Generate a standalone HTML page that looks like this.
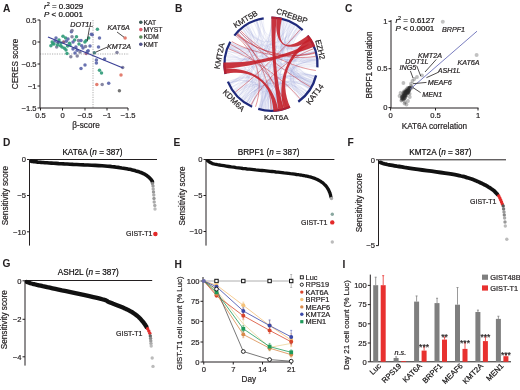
<!DOCTYPE html>
<html><head><meta charset="utf-8"><style>
html,body{margin:0;padding:0;background:#fff;width:520px;height:390px;overflow:hidden}
svg{display:block;will-change:transform}
text{font-family:"Liberation Sans", sans-serif;stroke:#231f20;stroke-width:0.2px;}
text[font-weight=bold]{stroke-width:0.05px}
</style></head><body>
<svg width="520" height="390" viewBox="0 0 520 390" font-family='"Liberation Sans", sans-serif'>
<rect width="520" height="390" fill="#fff"/>
<text x="3" y="12.3" font-size="10.2" text-anchor="start" font-weight="bold" fill="#231f20">A</text>
<text x="44" y="8.5" font-size="8"><tspan font-style="italic">r</tspan><tspan font-size="5.5" dy="-3">2</tspan><tspan dy="3"> = 0.3029</tspan></text>
<text x="44" y="17.2" font-size="8"><tspan font-style="italic">P</tspan> &lt; 0.0001</text>
<line x1="40" y1="54" x2="129" y2="54" stroke="#9a9a9a" stroke-width="0.8" stroke-dasharray="1.2 1.2"/>
<line x1="93" y1="20" x2="93" y2="108" stroke="#9a9a9a" stroke-width="0.8" stroke-dasharray="1.2 1.2"/>
<line x1="40" y1="20" x2="40" y2="108" stroke="#231f20" stroke-width="1.0"/>
<line x1="37.5" y1="20" x2="40" y2="20" stroke="#231f20" stroke-width="1.0"/>
<text x="36.5" y="22.7" font-size="7.6" text-anchor="end" fill="#231f20">0.5</text>
<line x1="37.5" y1="42" x2="40" y2="42" stroke="#231f20" stroke-width="1.0"/>
<text x="36.5" y="44.7" font-size="7.6" text-anchor="end" fill="#231f20">0</text>
<line x1="37.5" y1="64" x2="40" y2="64" stroke="#231f20" stroke-width="1.0"/>
<text x="36.5" y="66.7" font-size="7.6" text-anchor="end" fill="#231f20">&#8722;0.5</text>
<line x1="37.5" y1="86" x2="40" y2="86" stroke="#231f20" stroke-width="1.0"/>
<text x="36.5" y="88.7" font-size="7.6" text-anchor="end" fill="#231f20">&#8722;1</text>
<line x1="37.5" y1="108" x2="40" y2="108" stroke="#231f20" stroke-width="1.0"/>
<text x="36.5" y="110.7" font-size="7.6" text-anchor="end" fill="#231f20">&#8722;1.5</text>
<line x1="40" y1="108" x2="128" y2="108" stroke="#231f20" stroke-width="1.0"/>
<line x1="40.5" y1="108" x2="40.5" y2="110.5" stroke="#231f20" stroke-width="1.0"/>
<text x="40.5" y="118" font-size="7.6" text-anchor="middle" fill="#231f20">0.5</text>
<line x1="62.5" y1="108" x2="62.5" y2="110.5" stroke="#231f20" stroke-width="1.0"/>
<text x="62.5" y="118" font-size="7.6" text-anchor="middle" fill="#231f20">0</text>
<line x1="85" y1="108" x2="85" y2="110.5" stroke="#231f20" stroke-width="1.0"/>
<text x="85" y="118" font-size="7.6" text-anchor="middle" fill="#231f20">&#8722;0.5</text>
<line x1="107" y1="108" x2="107" y2="110.5" stroke="#231f20" stroke-width="1.0"/>
<text x="107" y="118" font-size="7.6" text-anchor="middle" fill="#231f20">&#8722;1</text>
<line x1="128" y1="108" x2="128" y2="110.5" stroke="#231f20" stroke-width="1.0"/>
<text x="128" y="118" font-size="7.6" text-anchor="middle" fill="#231f20">&#8722;1.5</text>
<text x="18.3" y="64" font-size="8.2" text-anchor="middle" transform="rotate(-90 18.3 64)" fill="#231f20">CERES score</text>
<text x="86" y="127.6" font-size="8.2" text-anchor="middle" fill="#231f20">&#946;-score</text>
<circle cx="52.2" cy="41.9" r="1.75" fill="#2e9a78" fill-opacity="0.9"/>
<circle cx="50.9" cy="45.8" r="1.75" fill="#2e9a78" fill-opacity="0.9"/>
<circle cx="52.8" cy="43.8" r="1.75" fill="#2e9a78" fill-opacity="0.9"/>
<circle cx="56.0" cy="38.0" r="1.75" fill="#5a64a8" fill-opacity="0.9"/>
<circle cx="56.7" cy="47.0" r="1.75" fill="#7a7a98" fill-opacity="0.9"/>
<circle cx="58.0" cy="42.6" r="1.75" fill="#3c4a8a" fill-opacity="0.9"/>
<circle cx="60.5" cy="45.8" r="1.75" fill="#2e9a78" fill-opacity="0.9"/>
<circle cx="63.0" cy="36.2" r="1.75" fill="#2e9a78" fill-opacity="0.9"/>
<circle cx="63.7" cy="42.0" r="1.75" fill="#8a4a6a" fill-opacity="0.9"/>
<circle cx="64.4" cy="48.3" r="1.75" fill="#2e9a78" fill-opacity="0.9"/>
<circle cx="65.6" cy="38.0" r="1.75" fill="#2e9a78" fill-opacity="0.9"/>
<circle cx="66.3" cy="41.3" r="1.75" fill="#5a64a8" fill-opacity="0.9"/>
<circle cx="67.0" cy="53.5" r="1.75" fill="#2e9a78" fill-opacity="0.9"/>
<circle cx="69.5" cy="43.2" r="1.75" fill="#2e9a78" fill-opacity="0.9"/>
<circle cx="70.8" cy="56.7" r="1.75" fill="#7a7a98" fill-opacity="0.9"/>
<circle cx="71.4" cy="31.7" r="1.75" fill="#5a64a8" fill-opacity="0.9"/>
<circle cx="72.0" cy="36.8" r="1.75" fill="#7a7a98" fill-opacity="0.9"/>
<circle cx="72.0" cy="30.4" r="1.75" fill="#7a7a98" fill-opacity="0.9"/>
<circle cx="74.6" cy="40.0" r="1.75" fill="#2e9a78" fill-opacity="0.9"/>
<circle cx="75.9" cy="47.0" r="1.75" fill="#5a64a8" fill-opacity="0.9"/>
<circle cx="76.5" cy="36.8" r="1.75" fill="#2e9a78" fill-opacity="0.9"/>
<circle cx="78.5" cy="40.6" r="1.75" fill="#7a7a98" fill-opacity="0.9"/>
<circle cx="77.2" cy="50.3" r="1.75" fill="#5a64a8" fill-opacity="0.9"/>
<circle cx="77.2" cy="56.0" r="1.75" fill="#7a7a98" fill-opacity="0.9"/>
<circle cx="81.0" cy="40.6" r="1.75" fill="#5a64a8" fill-opacity="0.9"/>
<circle cx="81.7" cy="45.8" r="1.75" fill="#5a64a8" fill-opacity="0.9"/>
<circle cx="84.9" cy="42.0" r="1.75" fill="#2e9a78" fill-opacity="0.9"/>
<circle cx="85.5" cy="46.4" r="1.75" fill="#7a7a98" fill-opacity="0.9"/>
<circle cx="86.2" cy="53.5" r="1.75" fill="#9a5a7a" fill-opacity="0.9"/>
<circle cx="87.4" cy="51.5" r="1.75" fill="#5a64a8" fill-opacity="0.9"/>
<circle cx="88.7" cy="38.0" r="1.75" fill="#2e9a78" fill-opacity="0.9"/>
<circle cx="91.3" cy="34.2" r="1.75" fill="#5a64a8" fill-opacity="0.9"/>
<circle cx="97.4" cy="29.2" r="1.75" fill="#2e9a78" fill-opacity="0.9"/>
<circle cx="99.5" cy="38.0" r="1.75" fill="#5a64a8" fill-opacity="0.9"/>
<circle cx="125.1" cy="38.0" r="1.75" fill="#e07060" fill-opacity="0.9"/>
<circle cx="92.3" cy="34.8" r="1.75" fill="#5a64a8" fill-opacity="0.9"/>
<circle cx="86.2" cy="40.5" r="1.75" fill="#2e9a78" fill-opacity="0.9"/>
<circle cx="98.5" cy="47.0" r="1.75" fill="#5a64a8" fill-opacity="0.9"/>
<circle cx="94.4" cy="52.8" r="1.75" fill="#3a7070" fill-opacity="0.9"/>
<circle cx="88.2" cy="50.8" r="1.75" fill="#5a64a8" fill-opacity="0.9"/>
<circle cx="96.4" cy="60.0" r="1.75" fill="#5a64a8" fill-opacity="0.9"/>
<circle cx="96.4" cy="63.0" r="1.75" fill="#5a64a8" fill-opacity="0.9"/>
<circle cx="104.6" cy="59.0" r="1.75" fill="#5a64a8" fill-opacity="0.9"/>
<circle cx="122.7" cy="67.6" r="1.75" fill="#7a7a98" fill-opacity="0.9"/>
<circle cx="99.5" cy="70.3" r="1.75" fill="#2e9a78" fill-opacity="0.9"/>
<circle cx="101.5" cy="73.0" r="1.75" fill="#2e9a78" fill-opacity="0.9"/>
<circle cx="121.0" cy="75.0" r="1.75" fill="#e07060" fill-opacity="0.9"/>
<circle cx="96.8" cy="84.6" r="1.75" fill="#e07060" fill-opacity="0.9"/>
<circle cx="102.2" cy="84.6" r="1.75" fill="#7a7a98" fill-opacity="0.9"/>
<circle cx="108.7" cy="83.2" r="1.75" fill="#5a64a8" fill-opacity="0.9"/>
<circle cx="119.4" cy="90.8" r="1.75" fill="#666" fill-opacity="0.9"/>
<circle cx="117.0" cy="52.5" r="1.75" fill="#7a7a98" fill-opacity="0.9"/>
<circle cx="85.0" cy="65.0" r="1.75" fill="#5a64a8" fill-opacity="0.9"/>
<circle cx="81.0" cy="68.6" r="1.75" fill="#5a64a8" fill-opacity="0.9"/>
<circle cx="55.0" cy="41.0" r="1.75" fill="#5a64a8" fill-opacity="0.9"/>
<circle cx="59.0" cy="40.0" r="1.75" fill="#2e9a78" fill-opacity="0.9"/>
<circle cx="61.0" cy="43.0" r="1.75" fill="#2e9a78" fill-opacity="0.9"/>
<circle cx="68.0" cy="39.0" r="1.75" fill="#5a64a8" fill-opacity="0.9"/>
<circle cx="70.0" cy="45.0" r="1.75" fill="#2e9a78" fill-opacity="0.9"/>
<circle cx="73.0" cy="42.0" r="1.75" fill="#5a64a8" fill-opacity="0.9"/>
<circle cx="79.0" cy="44.0" r="1.75" fill="#2e9a78" fill-opacity="0.9"/>
<circle cx="83.0" cy="48.0" r="1.75" fill="#5a64a8" fill-opacity="0.9"/>
<circle cx="62.0" cy="47.0" r="1.75" fill="#2e9a78" fill-opacity="0.9"/>
<circle cx="66.0" cy="50.0" r="1.75" fill="#2e9a78" fill-opacity="0.9"/>
<circle cx="54.0" cy="44.0" r="1.75" fill="#2e9a78" fill-opacity="0.9"/>
<circle cx="57.5" cy="45.0" r="1.75" fill="#2e9a78" fill-opacity="0.9"/>
<circle cx="67.5" cy="46.0" r="1.75" fill="#2e9a78" fill-opacity="0.9"/>
<circle cx="90.0" cy="46.0" r="1.75" fill="#5a64a8" fill-opacity="0.9"/>
<circle cx="75.0" cy="53.0" r="1.75" fill="#5a64a8" fill-opacity="0.9"/>
<circle cx="73.0" cy="49.0" r="1.75" fill="#5a64a8" fill-opacity="0.9"/>
<circle cx="80.0" cy="52.0" r="1.75" fill="#7a7a98" fill-opacity="0.9"/>
<line x1="48" y1="37" x2="123" y2="68" stroke="#3a3f96" stroke-width="1.2"/>
<text x="70.2" y="26.5" font-size="7.2" text-anchor="start" font-style="italic" fill="#231f20">DOT1L</text>
<line x1="89.5" y1="27.5" x2="87.2" y2="41" stroke="#231f20" stroke-width="0.8"/>
<text x="107.5" y="30.2" font-size="7.2" text-anchor="start" font-style="italic" fill="#231f20">KAT6A</text>
<line x1="117" y1="32" x2="124" y2="37.2" stroke="#231f20" stroke-width="0.8"/>
<text x="107" y="48.5" font-size="7.2" text-anchor="start" font-style="italic" fill="#231f20">KMT2A</text>
<line x1="107" y1="47.2" x2="96" y2="52" stroke="#231f20" stroke-width="0.8"/>
<circle cx="140.8" cy="22.3" r="1.8" fill="#3c5a56"/>
<text x="143.5" y="24.7" font-size="6.8" text-anchor="start" fill="#231f20">KAT</text>
<circle cx="140.8" cy="29.6" r="1.8" fill="#e06070"/>
<text x="143.5" y="32.05" font-size="6.8" text-anchor="start" fill="#231f20">MYST</text>
<circle cx="140.8" cy="37.0" r="1.8" fill="#5a8a5a"/>
<text x="143.5" y="39.4" font-size="6.8" text-anchor="start" fill="#231f20">KDM</text>
<circle cx="140.8" cy="44.3" r="1.8" fill="#50548a"/>
<text x="143.5" y="46.74999999999999" font-size="6.8" text-anchor="start" fill="#231f20">KMT</text>
<text x="175" y="12.3" font-size="10.2" text-anchor="start" font-weight="bold" fill="#231f20">B</text>
<path d="M314.7,52.4C291.2,58.7 257.4,80.2 241.7,98.8 M226.3,71.5C247.6,68.0 261.1,85.7 252.2,105.4 M312.6,82.2C288.8,71.9 253.0,71.5 229.1,81.3 M247.3,25.6C262.8,50.8 258.6,73.8 235.2,92.0 M229.5,46.1C250.3,55.2 292.7,58.0 314.5,51.7 M226.3,71.6C250.5,67.6 264.1,44.6 256.0,21.5 M314.7,76.1C289.8,69.3 266.0,45.4 259.4,20.4 M227.7,50.7C253.3,58.7 266.9,82.3 260.9,108.4 M246.4,26.2C257.9,43.9 249.1,74.3 229.9,83.2 M310.7,42.3C287.7,55.0 266.2,82.6 259.6,108.0 M225.7,63.9C252.6,64.1 261.7,48.3 248.2,25.0 M307.0,91.7C290.4,79.1 252.3,80.0 236.4,93.5 M229.3,46.4C251.0,55.7 285.7,48.2 301.7,30.9 M316.3,62.7C295.5,63.4 249.3,52.9 230.8,43.2 M233.7,89.9C251.6,77.6 274.9,40.9 278.5,19.5 M244.0,100.6C256.8,83.4 293.9,71.0 314.4,77.1 M279.1,108.8C275.3,88.2 272.4,39.9 273.6,19.0 M285.5,21.3C275.9,49.7 284.2,72.0 310.0,87.3 M244.5,27.4C259.1,47.7 279.7,45.8 290.4,23.3 M312.6,82.2C283.9,69.8 264.9,76.9 251.4,105.1 M288.9,22.6C281.0,41.0 248.0,74.6 229.7,82.8 M312.2,83.0C294.1,74.7 250.4,79.0 234.2,90.6 M300.2,98.8C283.4,79.0 288.9,56.9 313.0,47.1 M235.1,91.9C254.8,76.7 271.1,84.7 271.1,109.5 M238.2,95.5C254.9,79.6 258.7,45.6 246.0,26.4 M313.7,49.0C287.5,58.3 286.9,71.4 312.3,82.9 M302.7,96.5C283.3,76.8 282.9,51.2 301.6,30.8 M271.3,109.5C271.2,85.5 260.4,82.7 248.4,103.5 M311.0,85.5C289.5,74.1 266.4,84.7 261.0,108.4 M308.7,89.3C291.9,78.1 246.5,58.9 226.7,54.7 M279.8,19.8C275.0,43.8 288.6,75.3 309.3,88.4 M310.8,85.9C287.0,72.9 287.6,56.5 312.1,45.2 M243.6,100.3C257.1,82.5 291.0,75.3 310.6,86.2 M293.3,24.8C280.7,47.0 261.2,81.4 248.5,103.5 M225.7,65.0C249.2,64.6 257.6,47.0 243.2,28.5 M229.7,82.8C255.9,71.0 283.5,75.1 305.2,93.9 M312.4,45.9C293.2,54.4 282.4,42.8 292.4,24.3 M282.7,108.0C276.2,83.6 290.0,70.7 313.9,78.8 M316.2,60.9C287.0,63.0 281.9,76.1 301.6,97.6 M228.7,47.9C256.6,58.6 275.0,49.3 282.9,20.5 M302.6,96.7C283.5,77.1 260.5,78.8 244.4,100.9 M276.7,109.1C274.1,88.7 292.3,76.7 310.1,87.1 M300.5,29.8C287.5,44.9 266.1,89.1 262.2,108.6 M260.0,108.2C267.0,80.2 256.0,71.2 230.0,83.5 M229.1,47.0C252.5,56.6 270.1,84.2 269.0,109.5 M311.1,85.2C284.1,71.0 262.8,76.4 245.7,101.8 M248.8,103.7C264.0,76.7 284.1,70.0 312.5,82.5 M248.4,25.0C258.9,43.2 246.8,65.8 225.8,67.3 M288.0,106.2C276.8,78.4 260.1,75.0 238.9,96.1 M245.3,101.5C259.6,80.8 290.5,69.4 314.8,75.8 M275.2,19.1C273.3,39.1 258.6,86.2 248.7,103.6 M231.9,87.0C256.7,72.5 277.1,79.6 287.6,106.3 M299.0,28.6C281.4,51.1 262.8,78.8 248.9,103.7 M313.8,79.1C289.5,70.6 266.8,45.0 261.3,20.0 M240.9,98.1C259.8,76.8 265.4,48.3 255.9,21.5 M251.0,104.8C260.6,85.3 275.5,87.2 279.7,108.7 M256.5,21.3C266.4,50.4 271.6,49.7 272.9,18.9 M263.0,108.8C267.5,83.7 272.4,44.5 274.3,19.0 M311.5,84.5C290.2,73.8 290.7,55.7 312.6,46.3 M242.0,99.0C259.6,77.8 287.5,70.8 313.1,80.9 M289.5,22.9C278.5,47.4 289.2,61.7 315.9,58.0 M277.4,19.4C274.0,43.4 257.4,80.2 241.6,98.7 M244.6,27.4C258.6,47.0 252.8,75.0 232.1,87.4 M278.2,108.9C274.5,86.0 279.1,43.6 287.7,22.1 M276.7,109.1C273.1,80.6 254.8,67.4 226.6,73.0 M306.9,91.8C284.1,74.3 255.5,58.3 228.7,48.0 M316.3,65.3C295.4,64.8 277.9,40.8 283.8,20.7 M309.2,88.6C290.7,76.8 273.3,40.9 275.5,19.1 M229.7,45.5C251.2,55.2 264.3,43.5 257.1,21.1 M226.6,55.5C250.6,60.2 290.8,70.7 314.1,78.3 M276.2,19.2C272.7,49.8 269.2,78.6 265.5,109.2 M274.7,19.1C272.3,48.2 256.7,71.5 230.7,84.9 M297.8,27.7C285.1,45.0 293.5,71.9 313.9,78.8 M229.1,47.0C251.9,56.4 266.0,84.3 260.0,108.1 M236.1,35.3C255.7,51.5 281.9,47.5 295.7,26.3 M226.1,70.2C246.4,67.5 295.7,61.4 316.0,59.0 M282.2,20.3C276.8,41.4 253.3,79.7 236.9,94.0 M226.0,59.0C246.3,61.3 295.6,60.5 315.8,57.4 M229.8,83.1C248.1,74.7 271.8,89.4 272.4,109.5 M282.4,108.0C277.0,87.2 249.5,74.3 230.0,83.4 M315.7,57.1C292.5,60.8 268.6,85.9 266.1,109.2 M238.8,96.1C253.7,81.4 247.4,58.2 227.1,53.0 M295.2,25.9C281.7,47.3 266.6,83.7 261.1,108.4 M267.2,109.3C269.6,81.2 261.9,78.6 246.9,102.5 M301.3,97.9C286.4,81.3 293.2,58.1 314.7,52.2 M250.9,23.6C259.7,41.5 271.3,89.6 271.5,109.5 M307.2,36.9C285.7,53.1 286.4,74.3 308.9,89.0 M312.7,46.6C292.1,55.3 256.8,82.2 243.0,99.8 M316.2,67.1C291.9,65.5 272.8,85.0 274.8,109.3 M263.6,108.9C267.7,84.4 253.3,74.4 231.7,86.7 M287.3,106.5C279.3,85.7 250.4,53.8 230.6,43.7 M299.6,29.1C284.6,47.6 266.7,85.2 261.9,108.6 M236.8,34.5C258.2,53.1 254.1,65.1 225.8,66.6 M311.3,43.5C290.7,54.1 255.6,48.3 239.6,31.6 M260.6,20.1C265.5,40.8 275.7,40.7 279.9,19.8 M309.9,87.5C283.8,71.9 285.8,62.3 315.9,58.4 M297.6,27.5C281.6,49.5 287.3,72.0 311.8,83.8 M234.5,91.0C256.6,74.8 253.5,67.8 226.6,73.4 M283.2,107.8C277.7,88.3 281.7,41.6 290.4,23.3 M272.8,109.5C271.7,81.3 285.4,54.9 309.0,39.5 M226.1,70.0C246.7,67.4 266.1,88.2 262.0,108.6 M300.4,29.8C285.9,46.8 256.1,81.6 241.6,98.7 M242.3,29.1C257.4,47.5 269.9,85.7 268.6,109.4 M303.5,95.8C286.6,79.4 285.4,47.9 300.9,30.2 M287.6,22.0C279.2,43.5 248.7,63.3 225.7,62.3 M247.0,102.6C259.7,82.2 250.4,58.9 227.1,52.9 M316.3,63.7C286.4,64.0 282.7,74.1 305.6,93.4 M230.1,83.7C251.6,73.5 292.1,60.1 315.5,55.6 M280.4,108.5C275.1,83.3 260.6,80.7 246.8,102.5 M254.3,22.1C265.1,49.3 284.4,55.3 308.8,39.2 M241.1,98.3C259.7,77.1 254.1,66.6 226.1,70.4 M276.0,19.2C272.9,47.2 262.1,49.6 247.4,25.5 M226.3,57.0C246.4,60.3 264.8,40.0 259.8,20.3 M264.4,109.0C268.1,83.7 262.0,81.8 250.4,104.5 M280.4,19.9C274.2,49.3 283.7,55.7 308.6,39.0 M237.8,33.4C255.9,50.2 251.3,58.3 227.6,51.2 M259.0,107.9C265.4,84.5 255.8,49.7 238.2,33.0 M257.2,21.0C266.2,49.0 271.6,80.1 272.7,109.5 M244.3,27.6C257.0,45.0 292.4,74.5 311.8,83.9 M242.9,28.7C260.1,50.4 267.3,81.3 261.4,108.5 M268.3,109.4C269.6,88.1 256.5,83.3 243.6,100.3 M271.0,109.5C271.0,78.2 278.3,52.3 294.6,25.5 M226.2,57.8C251.9,61.5 289.6,58.9 314.5,51.7 M314.6,51.9C290.0,58.8 255.8,51.6 236.1,35.3 M226.1,70.1C249.6,67.0 275.7,85.3 280.9,108.4 M286.8,106.6C276.0,77.5 268.0,50.3 261.4,19.9 M238.3,95.5C260.8,74.0 284.5,60.0 314.3,50.9 M311.1,85.3C284.2,71.1 265.4,50.4 253.9,22.3 M256.5,21.3C266.2,50.1 264.6,77.6 251.5,105.1 M312.9,81.3C286.1,70.4 258.7,53.6 236.7,34.6 M225.8,66.5C247.9,65.4 256.6,46.1 242.8,28.7 M263.3,108.8C267.8,82.4 280.4,48.3 294.0,25.2 M287.4,106.4C276.9,79.5 255.9,57.8 229.3,46.6 M288.7,105.9C279.6,84.4 289.6,75.9 309.3,88.4 M275.6,109.3C272.7,81.0 284.6,54.1 307.4,37.3 M246.5,26.1C260.9,48.5 287.4,73.1 310.8,85.8 M278.4,19.5C273.5,48.8 266.1,49.4 256.8,21.2 M283.6,107.7C275.4,79.5 262.3,77.5 246.2,102.1 M284.4,107.5C275.5,78.7 264.5,78.0 251.7,105.2 M314.2,50.6C284.6,59.9 276.2,77.4 287.7,106.3 M277.1,109.1C272.9,78.6 281.8,74.0 304.6,94.6 M277.4,109.0C274.6,89.1 271.7,39.0 272.3,18.9 M287.0,21.8C278.5,44.4 277.3,84.4 284.6,107.4 M306.8,92.0C284.7,74.8 280.9,50.0 296.9,27.0 M257.0,21.1C264.9,45.5 266.1,83.2 259.7,108.1 M251.6,105.1C260.1,87.2 293.6,76.0 311.2,85.1 M314.5,76.9C285.4,68.4 275.9,50.0 285.8,21.4 M249.3,104.0C264.2,76.6 278.0,51.9 293.3,24.7 M238.9,96.1C256.9,78.2 274.0,44.5 277.7,19.4 M300.1,98.9C282.5,77.9 288.8,62.3 316.0,59.3 M260.3,108.2C266.9,81.2 287.9,68.8 314.7,76.2 M229.7,82.9C255.2,71.4 253.8,66.7 226.2,70.8 M237.8,33.3C257.9,52.1 273.6,81.8 277.6,109.0 M230.3,44.3C250.7,54.3 255.2,48.1 239.3,31.9 M229.1,47.0C248.2,54.8 271.8,88.9 272.5,109.5 M310.0,87.3C290.8,75.9 255.6,47.1 240.6,30.6 M281.4,108.3C276.1,85.9 291.9,72.1 313.4,80.3 M234.0,90.4C259.2,72.6 258.1,57.7 230.6,43.7 M316.0,59.1C285.9,62.5 257.0,58.6 228.9,47.4 M225.7,63.3C247.7,63.7 281.2,43.3 290.9,23.5 M298.6,28.3C285.9,44.9 254.1,81.8 239.6,96.9 M316.1,60.3C288.8,62.7 267.1,81.7 261.1,108.4 M309.4,88.2C284.9,72.9 280.5,50.8 297.3,27.3 M231.0,42.9C257.2,56.8 281.1,52.3 300.3,29.6 M316.3,66.3C291.5,65.1 289.9,72.1 312.8,81.8 M265.3,109.1C268.1,87.1 253.1,78.9 236.0,93.0 M246.8,102.5C263.1,76.8 260.6,53.6 239.3,31.8 M272.2,18.9C271.4,47.9 256.1,70.7 229.5,82.2 M314.0,78.5C293.3,71.6 278.1,41.7 284.6,21.0 M226.1,70.1C249.5,67.0 255.5,79.5 238.8,96.0 M225.8,60.6C248.1,62.4 288.5,79.1 305.5,93.6 M299.0,99.8C282.4,78.6 261.0,48.8 246.4,26.2 M271.6,18.9C271.3,42.8 258.1,81.3 243.6,100.3 M316.0,59.2C292.8,61.8 266.1,85.6 260.8,108.3 M302.8,96.4C285.0,78.4 278.3,82.8 287.5,106.4 M316.2,62.0C287.7,63.4 287.0,68.9 314.4,77.1 M281.9,108.2C276.5,86.2 276.6,42.2 282.1,20.3 M310.7,42.4C290.7,53.4 250.4,55.1 229.6,45.9 M273.0,109.5C272.1,89.1 246.1,62.0 225.9,60.1 M238.8,96.1C257.7,77.3 268.7,82.7 265.5,109.2 M243.8,100.4C261.3,77.1 281.4,51.9 300.2,29.6 M225.7,64.1C249.6,64.2 291.5,58.2 314.5,51.6 M295.1,25.9C281.1,48.1 288.0,55.8 311.6,44.1 M303.8,95.5C283.5,76.1 269.2,81.4 266.4,109.3 M281.4,20.1C274.4,49.7 273.0,78.9 277.0,109.1 M316.1,59.5C296.2,61.6 269.2,89.4 267.8,109.4 M244.4,27.5C260.7,50.0 253.5,65.8 225.9,68.5 M316.3,65.9C285.3,64.7 283.9,70.4 311.9,83.7 M312.5,82.4C283.9,69.9 257.9,59.1 228.7,47.9 M314.6,51.9C286.3,59.9 255.4,61.5 226.4,56.4 M316.1,60.5C296.1,62.1 255.9,44.0 243.9,27.9 M314.7,76.2C284.6,67.9 263.5,76.1 246.9,102.6 M263.6,108.9C267.2,87.3 289.4,78.6 306.6,92.2 M281.6,108.2C275.6,83.4 285.9,77.1 305.3,93.8 M225.7,62.7C256.6,63.7 284.9,68.0 314.7,76.1 M230.1,44.8C255.8,57.0 287.8,63.0 316.2,61.0 M316.0,59.3C290.8,62.1 252.4,57.3 228.5,48.4 M249.5,24.3C263.5,50.2 285.4,71.0 312.0,83.5 M292.1,24.1C282.4,42.5 266.0,88.2 261.7,108.5 M268.9,109.5C269.9,87.6 249.8,74.1 230.0,83.4 M273.6,109.4C271.9,80.3 286.0,69.9 313.3,80.3 M231.3,42.5C254.6,55.2 289.1,59.4 314.8,52.5 M309.3,88.3C287.3,74.4 268.3,83.2 264.6,109.0 M236.6,93.7C260.1,73.6 283.2,56.5 309.4,40.1 M282.6,108.0C276.3,84.3 259.9,46.6 246.8,25.9 M311.5,84.5C284.7,71.1 277.7,50.4 290.8,23.5 M316.1,60.2C288.0,62.7 283.2,76.1 303.5,95.8 M287.2,106.5C278.0,82.5 251.7,67.8 226.5,72.5 M225.8,67.4C255.0,65.3 267.4,79.9 260.9,108.4 M277.4,109.0C273.3,80.5 258.4,53.6 236.4,35.0 M282.0,20.2C275.2,47.5 286.0,72.7 310.3,86.6 M311.2,43.3C284.2,57.3 267.1,78.6 259.1,107.9 M227.6,51.2C250.6,58.1 273.0,43.0 275.3,19.1 M297.7,27.6C285.7,44.1 248.3,54.0 229.7,45.7 M225.9,59.7C251.8,62.3 284.0,49.9 301.5,30.7 M307.5,91.1C286.8,75.8 260.7,80.9 247.2,102.7 M310.0,41.2C289.8,53.1 251.9,53.7 231.3,42.4 M226.0,69.1C248.4,66.6 272.1,41.4 273.2,19.0 M310.2,41.5C291.9,52.1 287.5,81.8 301.9,97.3 M300.9,30.2C283.1,50.4 257.4,76.6 237.6,94.8 M284.3,20.9C276.1,47.7 266.4,80.8 258.9,107.9 M309.5,40.3C286.3,54.7 272.9,46.2 275.7,19.1 M229.9,83.3C254.4,71.9 271.3,45.9 271.6,18.9 M311.1,43.2C293.1,52.6 275.3,88.8 278.7,108.8 M267.7,109.4C270.0,78.4 274.4,50.4 281.8,20.2 M303.6,95.6C285.8,78.5 253.5,75.0 232.4,87.9 M273.0,109.5C271.9,84.3 257.1,78.8 239.8,97.1 M239.9,31.3C254.0,46.2 271.1,89.0 271.2,109.5 M239.4,31.8C254.4,47.2 250.0,53.2 230.8,43.3 M311.4,43.8C284.0,57.6 284.5,69.7 313.0,81.2 M291.3,23.7C280.2,45.8 277.0,83.9 284.2,107.5 M309.1,39.6C288.3,53.0 259.3,47.3 245.2,26.9 M304.7,94.4C285.4,77.1 259.6,79.8 244.3,100.8 M242.9,99.7C260.8,77.1 271.1,80.7 271.3,109.5 M272.1,109.5C271.5,85.0 254.6,77.0 235.3,92.1 M228.3,49.0C254.1,58.2 256.2,74.3 233.5,89.7 M225.7,62.6C253.6,63.6 268.0,47.1 263.1,19.6 M315.2,54.2C295.9,58.6 275.4,39.1 278.8,19.6 M313.6,48.9C285.6,59.0 285.0,70.7 312.2,83.1 M302.7,96.5C285.8,79.3 259.9,82.2 247.2,102.7 M229.1,81.3C253.6,71.3 278.0,81.6 287.9,106.2 M235.9,92.8C258.0,74.7 260.4,51.3 242.2,29.2 M312.8,46.8C289.8,56.4 274.4,44.2 278.6,19.5 M294.7,25.6C281.7,46.8 274.0,84.4 277.6,109.0 M283.7,20.7C276.4,45.9 287.7,73.4 310.7,86.1 M287.6,22.1C276.1,51.2 262.4,75.2 243.0,99.8 M271.4,18.9C271.1,47.8 256.4,71.6 230.7,84.8 M283.6,107.7C277.2,85.8 292.7,70.1 314.7,76.0 M309.5,88.1C290.0,76.0 256.6,81.3 241.9,98.9 M246.3,26.2C262.6,51.3 286.2,61.7 315.7,56.8 M274.9,109.3C272.5,81.4 288.3,64.0 316.3,63.7" fill="none" stroke="#9ea4d8" stroke-opacity="0.24" stroke-width="0.55"/>
<path d="M271.4,17.7 A46.5,46.5 0 0 1 302.7,30.2" fill="none" stroke="#1f2a7c" stroke-width="2.3"/>
<path d="M307.6,35.6 A46.5,46.5 0 0 1 317.4,67.4" fill="none" stroke="#1f2a7c" stroke-width="2.3"/>
<path d="M316.1,75.4 A46.5,46.5 0 0 1 298.3,101.8" fill="none" stroke="#1f2a7c" stroke-width="2.3"/>
<path d="M289.9,106.7 A46.5,46.5 0 0 1 258.2,108.9" fill="none" stroke="#1f2a7c" stroke-width="2.3"/>
<path d="M252.1,106.7 A46.5,46.5 0 0 1 227.9,81.6" fill="none" stroke="#1f2a7c" stroke-width="2.3"/>
<path d="M225.5,73.9 A46.5,46.5 0 0 1 230.3,41.7" fill="none" stroke="#1f2a7c" stroke-width="2.3"/>
<path d="M234.4,35.6 A46.5,46.5 0 0 1 263.7,18.3" fill="none" stroke="#1f2a7c" stroke-width="2.3"/>
<path d="M271.4,16.6 A47.65,47.65 0 0 1 276.8,16.9 C273.3,45.7 276.1,82.1 284.1,110.0 A47.65,47.65 0 0 1 278.5,111.3 C273.9,82.6 271.2,45.6 271.4,16.6Z" fill="#c4202a" fill-opacity="0.9"/>
<path d="M276.8,16.9 A47.65,47.65 0 0 1 282.1,17.9 C275.3,46.1 285.7,52.7 308.5,34.9 A47.65,47.65 0 0 1 311.8,39.7 C286.9,54.6 273.3,45.7 276.8,16.9Z" fill="#c4202a" fill-opacity="0.9"/>
<path d="M313.1,41.8 A47.65,47.65 0 0 1 315.2,46.3 C288.2,57.2 252.5,66.1 223.6,69.2 A47.65,47.65 0 0 1 223.4,62.5 C252.4,63.6 287.4,55.5 313.1,41.8Z" fill="#c4202a" fill-opacity="0.9"/>
<path d="M310.5,37.6 A47.65,47.65 0 0 1 313.1,41.8 C287.4,55.5 278.6,81.2 290.4,107.7 A47.65,47.65 0 0 1 284.1,110.0 C276.1,82.1 286.4,53.8 310.5,37.6Z" fill="#c4202a" fill-opacity="0.9"/>
<path d="M224.4,74.1 A47.65,47.65 0 0 1 223.6,69.2 C252.5,66.1 273.9,82.6 278.5,111.3 A47.65,47.65 0 0 1 273.5,111.8 C272.0,82.8 252.8,68.1 224.4,74.1Z" fill="#c4202a" fill-opacity="0.9"/>
<path d="M236.8,34.5C257.0,52.0 289.0,59.7 315.0,53.2 M237.3,33.9C257.2,51.8 289.3,61.0 315.6,56.3 M236.8,34.5C257.0,52.0 275.8,82.2 282.7,108.0 M237.9,33.3C257.4,51.5 271.0,82.8 271.0,109.5 M239.5,31.6C258.1,50.8 287.1,73.5 310.2,86.8 M240.7,30.5C258.6,50.4 289.4,66.8 315.9,70.5 M313.6,48.7C288.5,57.8 262.8,80.9 251.1,104.9 M230.3,44.3C254.3,56.0 277.4,81.7 286.5,106.8 M231.8,41.5C254.9,54.9 289.0,59.4 314.8,52.5 M300.1,29.5C283.0,50.0 256.3,75.7 235.3,92.1 M228.4,48.7C253.5,57.8 283.0,78.4 300.1,98.9 M235.8,35.7C256.5,52.5 264.6,81.7 255.5,106.8" fill="none" stroke="#c4202a" stroke-width="0.55" stroke-opacity="0.85"/>
<text x="292.0" y="16.2" font-size="7.9" text-anchor="middle" dominant-baseline="central" transform="rotate(19 292.0 16.2)" fill="#231f20">CREBBP</text>
<text x="320.1" y="49.7" font-size="7.9" text-anchor="middle" dominant-baseline="central" transform="rotate(76 320.1 49.7)" fill="#231f20">EZH2</text>
<text x="315.0" y="94.3" font-size="7.9" text-anchor="middle" dominant-baseline="central" transform="rotate(-53 315.0 94.3)" fill="#231f20">KAT14</text>
<text x="276.2" y="117.1" font-size="7.9" text-anchor="middle" dominant-baseline="central" transform="rotate(0 276.2 117.1)" fill="#231f20">KAT6A</text>
<text x="233.7" y="100.5" font-size="7.9" text-anchor="middle" dominant-baseline="central" transform="rotate(45 233.7 100.5)" fill="#231f20">KDM6A</text>
<text x="219.6" y="56.1" font-size="7.9" text-anchor="middle" dominant-baseline="central" transform="rotate(-79 219.6 56.1)" fill="#231f20">KMT2A</text>
<text x="245.6" y="19.3" font-size="7.9" text-anchor="middle" dominant-baseline="central" transform="rotate(-31 245.6 19.3)" fill="#231f20">KMT5B</text>
<text x="345" y="12.3" font-size="10.2" text-anchor="start" font-weight="bold" fill="#231f20">C</text>
<text x="395.4" y="22.5" font-size="8"><tspan font-style="italic">r</tspan><tspan font-size="5.5" dy="-3">2</tspan><tspan dy="3"> = 0.6127</tspan></text>
<text x="395.4" y="31" font-size="8"><tspan font-style="italic">P</tspan> &lt; 0.0001</text>
<circle cx="403.5" cy="92.4" r="1.9" fill="#2a2a2a" fill-opacity="0.35"/>
<circle cx="404.4" cy="93.3" r="1.9" fill="#2a2a2a" fill-opacity="0.35"/>
<circle cx="402.1" cy="96.3" r="1.9" fill="#2a2a2a" fill-opacity="0.35"/>
<circle cx="409.0" cy="90.4" r="1.9" fill="#2a2a2a" fill-opacity="0.35"/>
<circle cx="403.3" cy="95.6" r="1.9" fill="#2a2a2a" fill-opacity="0.35"/>
<circle cx="404.9" cy="97.7" r="1.9" fill="#2a2a2a" fill-opacity="0.35"/>
<circle cx="406.8" cy="90.8" r="1.9" fill="#2a2a2a" fill-opacity="0.35"/>
<circle cx="401.8" cy="98.3" r="1.9" fill="#2a2a2a" fill-opacity="0.35"/>
<circle cx="403.5" cy="96.7" r="1.9" fill="#2a2a2a" fill-opacity="0.35"/>
<circle cx="403.9" cy="94.3" r="1.9" fill="#2a2a2a" fill-opacity="0.35"/>
<circle cx="405.4" cy="91.6" r="1.9" fill="#2a2a2a" fill-opacity="0.35"/>
<circle cx="406.5" cy="91.5" r="1.9" fill="#2a2a2a" fill-opacity="0.35"/>
<circle cx="411.9" cy="87.5" r="1.9" fill="#2a2a2a" fill-opacity="0.35"/>
<circle cx="407.4" cy="91.6" r="1.9" fill="#2a2a2a" fill-opacity="0.35"/>
<circle cx="405.9" cy="96.3" r="1.9" fill="#2a2a2a" fill-opacity="0.35"/>
<circle cx="405.8" cy="93.0" r="1.9" fill="#2a2a2a" fill-opacity="0.35"/>
<circle cx="409.7" cy="87.9" r="1.9" fill="#2a2a2a" fill-opacity="0.35"/>
<circle cx="404.6" cy="95.4" r="1.9" fill="#2a2a2a" fill-opacity="0.35"/>
<circle cx="409.5" cy="88.0" r="1.9" fill="#2a2a2a" fill-opacity="0.35"/>
<circle cx="407.2" cy="90.6" r="1.9" fill="#2a2a2a" fill-opacity="0.35"/>
<circle cx="401.4" cy="100.5" r="1.9" fill="#2a2a2a" fill-opacity="0.35"/>
<circle cx="408.6" cy="90.8" r="1.9" fill="#2a2a2a" fill-opacity="0.35"/>
<circle cx="404.5" cy="98.2" r="1.9" fill="#2a2a2a" fill-opacity="0.35"/>
<circle cx="402.4" cy="96.0" r="1.9" fill="#2a2a2a" fill-opacity="0.35"/>
<circle cx="403.5" cy="95.7" r="1.9" fill="#2a2a2a" fill-opacity="0.35"/>
<circle cx="407.9" cy="92.3" r="1.9" fill="#2a2a2a" fill-opacity="0.35"/>
<circle cx="403.4" cy="99.6" r="1.9" fill="#2a2a2a" fill-opacity="0.35"/>
<circle cx="407.7" cy="92.2" r="1.9" fill="#2a2a2a" fill-opacity="0.35"/>
<circle cx="402.1" cy="97.8" r="1.9" fill="#2a2a2a" fill-opacity="0.35"/>
<circle cx="409.6" cy="93.7" r="1.9" fill="#2a2a2a" fill-opacity="0.35"/>
<circle cx="403.6" cy="98.4" r="1.9" fill="#2a2a2a" fill-opacity="0.35"/>
<circle cx="404.5" cy="95.4" r="1.9" fill="#2a2a2a" fill-opacity="0.35"/>
<circle cx="402.1" cy="97.0" r="1.9" fill="#2a2a2a" fill-opacity="0.35"/>
<circle cx="406.0" cy="92.9" r="1.9" fill="#2a2a2a" fill-opacity="0.35"/>
<circle cx="408.4" cy="88.1" r="1.9" fill="#2a2a2a" fill-opacity="0.35"/>
<circle cx="409.2" cy="89.7" r="1.9" fill="#2a2a2a" fill-opacity="0.35"/>
<circle cx="409.6" cy="87.6" r="1.9" fill="#2a2a2a" fill-opacity="0.35"/>
<circle cx="403.4" cy="93.3" r="1.9" fill="#2a2a2a" fill-opacity="0.35"/>
<circle cx="405.5" cy="95.5" r="1.9" fill="#2a2a2a" fill-opacity="0.35"/>
<circle cx="406.4" cy="92.1" r="1.9" fill="#2a2a2a" fill-opacity="0.35"/>
<circle cx="403.0" cy="97.9" r="1.9" fill="#2a2a2a" fill-opacity="0.35"/>
<circle cx="407.6" cy="93.2" r="1.9" fill="#2a2a2a" fill-opacity="0.35"/>
<circle cx="406.6" cy="92.7" r="1.9" fill="#2a2a2a" fill-opacity="0.35"/>
<circle cx="408.4" cy="91.0" r="1.9" fill="#2a2a2a" fill-opacity="0.35"/>
<circle cx="407.3" cy="90.9" r="1.9" fill="#2a2a2a" fill-opacity="0.35"/>
<circle cx="404.8" cy="95.0" r="1.9" fill="#2a2a2a" fill-opacity="0.35"/>
<circle cx="402.0" cy="99.7" r="1.9" fill="#2a2a2a" fill-opacity="0.35"/>
<circle cx="402.9" cy="99.0" r="1.9" fill="#2a2a2a" fill-opacity="0.35"/>
<circle cx="407.2" cy="93.1" r="1.9" fill="#2a2a2a" fill-opacity="0.35"/>
<circle cx="410.6" cy="88.5" r="1.9" fill="#2a2a2a" fill-opacity="0.35"/>
<circle cx="407.1" cy="90.5" r="1.9" fill="#2a2a2a" fill-opacity="0.35"/>
<circle cx="404.5" cy="98.4" r="1.9" fill="#2a2a2a" fill-opacity="0.35"/>
<circle cx="407.8" cy="90.7" r="1.9" fill="#2a2a2a" fill-opacity="0.35"/>
<circle cx="405.5" cy="91.7" r="1.9" fill="#2a2a2a" fill-opacity="0.35"/>
<circle cx="404.9" cy="95.0" r="1.9" fill="#2a2a2a" fill-opacity="0.35"/>
<circle cx="406.2" cy="89.7" r="1.9" fill="#2a2a2a" fill-opacity="0.35"/>
<circle cx="407.4" cy="88.2" r="1.9" fill="#2a2a2a" fill-opacity="0.35"/>
<circle cx="408.4" cy="90.0" r="1.9" fill="#2a2a2a" fill-opacity="0.35"/>
<circle cx="409.9" cy="87.6" r="1.9" fill="#2a2a2a" fill-opacity="0.35"/>
<circle cx="409.2" cy="88.5" r="1.9" fill="#2a2a2a" fill-opacity="0.35"/>
<circle cx="406.0" cy="92.8" r="1.9" fill="#2a2a2a" fill-opacity="0.35"/>
<circle cx="408.1" cy="92.7" r="1.9" fill="#2a2a2a" fill-opacity="0.35"/>
<circle cx="411.1" cy="86.1" r="1.9" fill="#2a2a2a" fill-opacity="0.35"/>
<circle cx="405.0" cy="92.5" r="1.9" fill="#2a2a2a" fill-opacity="0.35"/>
<circle cx="405.7" cy="93.2" r="1.9" fill="#2a2a2a" fill-opacity="0.35"/>
<circle cx="409.3" cy="90.6" r="1.9" fill="#2a2a2a" fill-opacity="0.35"/>
<circle cx="406.0" cy="95.2" r="1.9" fill="#2a2a2a" fill-opacity="0.35"/>
<circle cx="404.3" cy="91.1" r="1.9" fill="#2a2a2a" fill-opacity="0.35"/>
<circle cx="404.9" cy="95.8" r="1.9" fill="#2a2a2a" fill-opacity="0.35"/>
<circle cx="407.6" cy="91.8" r="1.9" fill="#2a2a2a" fill-opacity="0.35"/>
<circle cx="405.0" cy="102.0" r="1.9" fill="#2a2a2a" fill-opacity="0.3"/>
<circle cx="406.5" cy="104.5" r="1.9" fill="#2a2a2a" fill-opacity="0.3"/>
<circle cx="404.5" cy="103.5" r="1.9" fill="#2a2a2a" fill-opacity="0.3"/>
<circle cx="403.4" cy="83.0" r="1.9" fill="#2a2a2a" fill-opacity="0.3"/>
<circle cx="409.8" cy="97.0" r="1.9" fill="#2a2a2a" fill-opacity="0.3"/>
<circle cx="414.3" cy="79.0" r="1.9" fill="#2a2a2a" fill-opacity="0.3"/>
<circle cx="411.0" cy="83.7" r="1.9" fill="#2a2a2a" fill-opacity="0.3"/>
<circle cx="422.0" cy="75.4" r="1.9" fill="#2a2a2a" fill-opacity="0.3"/>
<circle cx="399.5" cy="96.0" r="1.9" fill="#2a2a2a" fill-opacity="0.3"/>
<circle cx="400.5" cy="93.0" r="1.9" fill="#2a2a2a" fill-opacity="0.3"/>
<circle cx="417.0" cy="77.0" r="1.9" fill="#2a2a2a" fill-opacity="0.3"/>
<circle cx="412.5" cy="81.0" r="1.9" fill="#2a2a2a" fill-opacity="0.3"/>
<circle cx="408.0" cy="101.0" r="1.9" fill="#2a2a2a" fill-opacity="0.3"/>
<circle cx="442.8" cy="21.8" r="2" fill="#999" fill-opacity="0.6"/>
<circle cx="476.6" cy="55.1" r="2" fill="#999" fill-opacity="0.6"/>
<line x1="410" y1="89.3" x2="477" y2="31.2" stroke="#6a6eb8" stroke-width="0.9"/>
<line x1="391" y1="20" x2="391" y2="108" stroke="#231f20" stroke-width="1.0"/>
<line x1="388.5" y1="21.3" x2="391" y2="21.3" stroke="#231f20" stroke-width="1.0"/>
<text x="387.5" y="24.0" font-size="7.6" text-anchor="end" fill="#231f20">1</text>
<line x1="388.5" y1="68.7" x2="391" y2="68.7" stroke="#231f20" stroke-width="1.0"/>
<text x="387.5" y="71.4" font-size="7.6" text-anchor="end" fill="#231f20">0.5</text>
<line x1="388.5" y1="107.6" x2="391" y2="107.6" stroke="#231f20" stroke-width="1.0"/>
<text x="387.5" y="110.3" font-size="7.6" text-anchor="end" fill="#231f20">0</text>
<line x1="391" y1="108" x2="478.5" y2="108" stroke="#231f20" stroke-width="1.0"/>
<line x1="390.6" y1="108" x2="390.6" y2="110.5" stroke="#231f20" stroke-width="1.0"/>
<text x="390.6" y="118" font-size="7.6" text-anchor="middle" fill="#231f20">0</text>
<line x1="435.5" y1="108" x2="435.5" y2="110.5" stroke="#231f20" stroke-width="1.0"/>
<text x="435.5" y="118" font-size="7.6" text-anchor="middle" fill="#231f20">0.5</text>
<line x1="478" y1="108" x2="478" y2="110.5" stroke="#231f20" stroke-width="1.0"/>
<text x="478" y="118" font-size="7.6" text-anchor="middle" fill="#231f20">1</text>
<text x="371.5" y="65" font-size="8.2" text-anchor="middle" transform="rotate(-90 371.5 65)" fill="#231f20">BRPF1 correlation</text>
<text x="434.5" y="128.6" font-size="8.2" text-anchor="middle" fill="#231f20">KAT6A correlation</text>
<text x="441.9" y="32.2" font-size="7.2" text-anchor="start" font-style="italic" fill="#231f20">BRPF1</text>
<text x="457.4" y="64.7" font-size="7.2" text-anchor="start" font-style="italic" fill="#231f20">KAT6A</text>
<text x="418" y="57.5" font-size="7.2" text-anchor="start" font-style="italic" fill="#231f20">KMT2A</text>
<text x="405.3" y="64.1" font-size="7.2" text-anchor="start" font-style="italic" fill="#231f20">DOT1L</text>
<text x="399.6" y="69.8" font-size="7.2" text-anchor="start" font-style="italic" fill="#231f20">ING5</text>
<text x="437.7" y="73.1" font-size="7.2" text-anchor="start" font-style="italic" fill="#231f20">ASH1L</text>
<text x="427.8" y="84.5" font-size="7.2" text-anchor="start" font-style="italic" fill="#231f20">MEAF6</text>
<text x="422.2" y="96.5" font-size="7.2" text-anchor="start" font-style="italic" fill="#231f20">MEN1</text>
<line x1="436.3" y1="59.4" x2="425" y2="72" stroke="#231f20" stroke-width="0.8"/>
<line x1="416.8" y1="66" x2="420.7" y2="76" stroke="#231f20" stroke-width="0.8"/>
<line x1="410.4" y1="70.9" x2="413" y2="78" stroke="#231f20" stroke-width="0.8"/>
<line x1="437.7" y1="72.6" x2="426.4" y2="77.7" stroke="#231f20" stroke-width="0.8"/>
<line x1="426.5" y1="82.4" x2="413" y2="83.7" stroke="#231f20" stroke-width="0.8"/>
<line x1="420.7" y1="92.7" x2="413" y2="87.6" stroke="#231f20" stroke-width="0.8"/>
<text x="3" y="145.5" font-size="10.2" text-anchor="start" font-weight="bold" fill="#231f20">D</text>
<text x="92.5" y="155.2" font-size="8.2" text-anchor="middle">KAT6A (<tspan font-style="italic">n</tspan> = 387)</text>
<line x1="29.5" y1="159.5" x2="157" y2="159.5" stroke="#231f20" stroke-width="1.0"/>
<line x1="29.5" y1="159.5" x2="29.5" y2="245.6" stroke="#231f20" stroke-width="1.0"/>
<line x1="27.0" y1="159.5" x2="29.5" y2="159.5" stroke="#231f20" stroke-width="1.0"/>
<text x="26.0" y="162.2" font-size="7.6" text-anchor="end" fill="#231f20">0</text>
<line x1="27.0" y1="195.5" x2="29.5" y2="195.5" stroke="#231f20" stroke-width="1.0"/>
<text x="26.0" y="198.2" font-size="7.6" text-anchor="end" fill="#231f20">&#8722;5</text>
<line x1="27.0" y1="231.8" x2="29.5" y2="231.8" stroke="#231f20" stroke-width="1.0"/>
<text x="26.0" y="234.5" font-size="7.6" text-anchor="end" fill="#231f20">&#8722;10</text>
<text x="7.6" y="195.6" font-size="8.2" text-anchor="middle" transform="rotate(-90 7.6 195.6)" fill="#231f20">Sensitivity score</text>
<path d="M31.0,161.3 L31.8,161.4 L32.7,161.5 L33.8,161.6 L35.1,161.8 L36.4,161.9 L37.9,162.1 L39.6,162.2 L41.3,162.4 L43.1,162.5 L45.0,162.7 L47.0,162.8 L49.1,163.0 L51.4,163.1 L53.7,163.3 L56.2,163.4 L58.8,163.6 L61.4,163.7 L64.2,163.9 L67.0,164.0 L70.0,164.2 L73.2,164.4 L76.6,164.5 L80.2,164.7 L84.0,164.9 L87.8,165.0 L91.6,165.2 L95.3,165.4 L98.8,165.6 L102.1,165.8 L105.0,166.0 L107.6,166.2 L110.1,166.4 L112.3,166.7 L114.4,166.9 L116.4,167.2 L118.2,167.4 L120.0,167.7 L121.7,168.0 L123.4,168.2 L125.0,168.5 L126.6,168.8 L128.1,169.1 L129.6,169.3 L130.9,169.6 L132.2,169.9 L133.5,170.2 L134.7,170.5 L135.8,170.9 L136.9,171.2 L138.0,171.5 L139.0,171.8 L140.0,172.2 L140.9,172.5 L141.7,172.8 L142.5,173.2 L143.3,173.5 L144.0,173.9 L144.7,174.2 L145.3,174.6 L146.0,175.0 L146.6,175.4 L147.2,175.9 L147.8,176.3 L148.4,176.8 L148.9,177.3 L149.4,177.8 L149.9,178.3 L150.3,178.7 L150.7,179.1 L151.0,179.5 L151.3,179.8 L151.5,180.2 L151.8,180.5 L151.9,180.8 L152.1,181.0 L152.2,181.3 L152.3,181.5 L152.4,181.7 L152.4,181.9 L152.5,182.0" fill="none" stroke="#111" stroke-width="3.6" stroke-linejoin="round" stroke-linecap="round"/>
<circle cx="152.5" cy="183.5" r="1.7" fill="#888"/>
<circle cx="153.0" cy="186.0" r="1.7" fill="#999"/>
<circle cx="153.2" cy="189.0" r="1.7" fill="#aaa"/>
<circle cx="153.5" cy="192.0" r="1.7" fill="#999"/>
<circle cx="153.8" cy="195.0" r="1.7" fill="#aaa"/>
<circle cx="154.0" cy="198.5" r="1.7" fill="#999"/>
<circle cx="154.2" cy="202.0" r="1.7" fill="#aaa"/>
<circle cx="154.8" cy="205.5" r="1.7" fill="#aaa"/>
<circle cx="155.0" cy="209.0" r="1.7" fill="#bbb"/>
<circle cx="155.4" cy="234.0" r="1.7" fill="#e32a2a"/>
<circle cx="155.4" cy="234.0" r="2.25" fill="#e32a2a"/>
<text x="152.5" y="236.4" font-size="7.0" text-anchor="end" fill="#231f20">GIST-T1</text>
<text x="173.5" y="145.5" font-size="10.2" text-anchor="start" font-weight="bold" fill="#231f20">E</text>
<text x="268.6" y="155.2" font-size="8.2" text-anchor="middle">BRPF1 (<tspan font-style="italic">n</tspan> = 387)</text>
<line x1="206" y1="159.5" x2="334.4" y2="159.5" stroke="#231f20" stroke-width="1.0"/>
<line x1="206" y1="159.5" x2="206" y2="245.6" stroke="#231f20" stroke-width="1.0"/>
<line x1="203.5" y1="159.5" x2="206" y2="159.5" stroke="#231f20" stroke-width="1.0"/>
<text x="202.5" y="162.2" font-size="7.6" text-anchor="end" fill="#231f20">0</text>
<line x1="203.5" y1="195.5" x2="206" y2="195.5" stroke="#231f20" stroke-width="1.0"/>
<text x="202.5" y="198.2" font-size="7.6" text-anchor="end" fill="#231f20">&#8722;5</text>
<line x1="203.5" y1="231.5" x2="206" y2="231.5" stroke="#231f20" stroke-width="1.0"/>
<text x="202.5" y="234.2" font-size="7.6" text-anchor="end" fill="#231f20">&#8722;10</text>
<text x="185" y="196" font-size="8.2" text-anchor="middle" transform="rotate(-90 185 196)" fill="#231f20">Sensitivity score</text>
<path d="M207.5,160.6 L207.7,160.7 L208.0,160.9 L208.2,161.1 L208.6,161.4 L208.9,161.6 L209.3,161.9 L209.7,162.1 L210.1,162.4 L210.6,162.6 L211.0,162.8 L211.4,163.0 L211.6,163.1 L211.8,163.3 L212.1,163.4 L212.3,163.5 L212.7,163.7 L213.2,163.8 L213.9,164.0 L214.8,164.2 L216.0,164.4 L217.5,164.7 L219.4,165.0 L221.5,165.3 L223.8,165.7 L226.2,166.1 L228.7,166.5 L231.3,166.9 L233.8,167.2 L236.2,167.6 L238.5,167.9 L240.7,168.2 L242.9,168.5 L245.1,168.7 L247.2,169.0 L249.4,169.2 L251.6,169.4 L253.7,169.6 L255.8,169.9 L257.9,170.1 L260.0,170.3 L262.1,170.5 L264.1,170.7 L266.1,170.9 L268.1,171.1 L270.1,171.3 L272.1,171.5 L274.0,171.7 L276.0,172.0 L278.0,172.2 L280.0,172.4 L282.0,172.6 L284.1,172.9 L286.3,173.1 L288.4,173.4 L290.5,173.7 L292.6,173.9 L294.6,174.2 L296.5,174.5 L298.3,174.7 L300.0,175.0 L301.5,175.2 L303.0,175.5 L304.3,175.7 L305.6,176.0 L306.8,176.2 L307.9,176.4 L308.9,176.7 L310.0,176.9 L311.0,177.2 L312.0,177.5 L313.0,177.8 L313.9,178.1 L314.8,178.4 L315.6,178.8 L316.4,179.1 L317.1,179.4 L317.9,179.8 L318.6,180.2 L319.3,180.6 L320.0,181.0 L320.7,181.4 L321.4,181.9 L322.0,182.4 L322.7,182.8 L323.3,183.3 L323.9,183.9 L324.4,184.4 L325.0,184.9 L325.5,185.5 L326.0,186.0 L326.5,186.6 L326.9,187.2 L327.3,187.8 L327.7,188.4 L328.0,189.0 L328.4,189.6 L328.7,190.2 L329.0,190.8 L329.2,191.4 L329.5,192.0 L329.7,192.6 L330.0,193.1 L330.1,193.7 L330.3,194.3 L330.5,194.9 L330.6,195.4 L330.7,195.9 L330.8,196.3 L330.9,196.7 L331.0,197.0" fill="none" stroke="#111" stroke-width="3.3" stroke-linejoin="round" stroke-linecap="round"/>
<circle cx="331.5" cy="198.5" r="1.7" fill="#aaa"/>
<circle cx="332.3" cy="214.2" r="1.7" fill="#8aa8a0"/>
<circle cx="332.3" cy="222.4" r="1.7" fill="#e32a2a"/>
<circle cx="332.3" cy="242.0" r="1.7" fill="#bbb"/>
<circle cx="332.3" cy="222.4" r="2.2" fill="#e32a2a"/>
<text x="327.5" y="224.8" font-size="7.0" text-anchor="end" fill="#231f20">GIST-T1</text>
<text x="347.4" y="145.5" font-size="10.2" text-anchor="start" font-weight="bold" fill="#231f20">F</text>
<text x="440.4" y="155.2" font-size="8.2" text-anchor="middle">KMT2A (<tspan font-style="italic">n</tspan> = 387)</text>
<line x1="378.5" y1="159.8" x2="506" y2="159.8" stroke="#231f20" stroke-width="1.0"/>
<line x1="378.5" y1="159.8" x2="378.5" y2="245.6" stroke="#231f20" stroke-width="1.0"/>
<line x1="376.0" y1="159.8" x2="378.5" y2="159.8" stroke="#231f20" stroke-width="1.0"/>
<text x="375.0" y="162.5" font-size="7.6" text-anchor="end" fill="#231f20">0</text>
<line x1="376.0" y1="245.6" x2="378.5" y2="245.6" stroke="#231f20" stroke-width="1.0"/>
<text x="375.0" y="248.29999999999998" font-size="7.6" text-anchor="end" fill="#231f20">&#8722;5</text>
<text x="362" y="202.7" font-size="8.2" text-anchor="middle" transform="rotate(-90 362 202.7)" fill="#231f20">Sensitivity score</text>
<path d="M380.5,162.5 L380.8,162.6 L381.2,162.7 L381.6,162.9 L382.0,163.1 L382.5,163.3 L383.1,163.5 L383.9,163.7 L384.9,164.0 L386.0,164.2 L387.4,164.5 L389.0,164.8 L390.7,165.1 L392.6,165.4 L394.6,165.8 L396.8,166.2 L399.2,166.5 L401.7,166.9 L404.4,167.4 L407.4,167.8 L410.5,168.3 L414.0,168.8 L418.0,169.4 L422.3,170.0 L426.9,170.6 L431.6,171.2 L436.2,171.9 L440.7,172.5 L444.9,173.1 L448.7,173.7 L452.0,174.2 L454.8,174.7 L457.2,175.1 L459.3,175.6 L461.1,176.0 L462.7,176.3 L464.2,176.7 L465.6,177.1 L467.0,177.6 L468.5,178.0 L470.0,178.5 L471.6,179.0 L473.1,179.6 L474.7,180.2 L476.1,180.8 L477.6,181.4 L479.0,182.1 L480.3,182.7 L481.6,183.3 L482.8,183.9 L484.0,184.5 L485.1,185.1 L486.2,185.6 L487.2,186.2 L488.2,186.8 L489.1,187.3 L490.0,187.9 L490.8,188.4 L491.6,189.0 L492.3,189.5 L493.0,190.0 L493.7,190.5 L494.3,191.0 L494.8,191.6 L495.3,192.1 L495.8,192.6 L496.2,193.1 L496.6,193.5 L497.0,193.9 L497.3,194.2 L497.5,194.5" fill="none" stroke="#111" stroke-width="3.8" stroke-linejoin="round" stroke-linecap="round"/>
<circle cx="498.8" cy="196.0" r="1.7" fill="#e32a2a"/>
<circle cx="499.8" cy="198.0" r="1.7" fill="#e32a2a"/>
<circle cx="500.7" cy="200.0" r="1.7" fill="#e32a2a"/>
<circle cx="501.5" cy="202.0" r="1.7" fill="#e32a2a"/>
<circle cx="502.3" cy="204.0" r="1.7" fill="#e32a2a"/>
<circle cx="503.2" cy="206.0" r="1.7" fill="#555"/>
<circle cx="503.6" cy="209.0" r="1.7" fill="#777"/>
<circle cx="504.0" cy="212.0" r="1.7" fill="#999"/>
<circle cx="504.3" cy="215.0" r="1.7" fill="#888"/>
<circle cx="504.6" cy="218.0" r="1.7" fill="#aaa"/>
<circle cx="505.0" cy="222.0" r="1.7" fill="#999"/>
<circle cx="505.3" cy="226.0" r="1.7" fill="#bbb"/>
<circle cx="506.8" cy="239.3" r="1.7" fill="#bbb"/>
<text x="496.5" y="204.2" font-size="7.0" text-anchor="end" fill="#231f20">GIST-T1</text>
<text x="2.4" y="267" font-size="10.2" text-anchor="start" font-weight="bold" fill="#231f20">G</text>
<text x="88.2" y="275.2" font-size="8.2" text-anchor="middle">ASH2L (<tspan font-style="italic">n</tspan> = 387)</text>
<line x1="25" y1="280.5" x2="152.2" y2="280.5" stroke="#231f20" stroke-width="1.0"/>
<line x1="25" y1="280.5" x2="25" y2="365.6" stroke="#231f20" stroke-width="1.0"/>
<line x1="22.5" y1="280.8" x2="25" y2="280.8" stroke="#231f20" stroke-width="1.0"/>
<text x="21.5" y="283.5" font-size="7.6" text-anchor="end" fill="#231f20">0</text>
<line x1="22.5" y1="319.3" x2="25" y2="319.3" stroke="#231f20" stroke-width="1.0"/>
<text x="21.5" y="322.0" font-size="7.6" text-anchor="end" fill="#231f20">&#8722;2</text>
<line x1="22.5" y1="356.8" x2="25" y2="356.8" stroke="#231f20" stroke-width="1.0"/>
<text x="21.5" y="359.5" font-size="7.6" text-anchor="end" fill="#231f20">&#8722;4</text>
<text x="7.5" y="319.7" font-size="8.2" text-anchor="middle" transform="rotate(-90 7.5 319.7)" fill="#231f20">Sensitivity score</text>
<path d="M26.9,282.0 L27.3,282.1 L27.8,282.3 L28.4,282.5 L29.0,282.7 L29.7,282.9 L30.5,283.2 L31.5,283.5 L32.6,283.8 L33.9,284.1 L35.4,284.5 L37.0,284.9 L38.8,285.3 L40.7,285.7 L42.7,286.2 L44.9,286.6 L47.2,287.2 L49.8,287.7 L52.5,288.3 L55.4,288.9 L58.5,289.6 L62.0,290.4 L66.1,291.2 L70.6,292.2 L75.3,293.2 L80.1,294.2 L84.8,295.2 L89.3,296.2 L93.4,297.1 L97.0,297.9 L100.0,298.6 L102.2,299.2 L103.9,299.7 L105.1,300.0 L105.9,300.4 L106.5,300.7 L106.9,300.9 L107.4,301.2 L108.0,301.6 L108.8,302.0 L110.0,302.5 L111.5,303.1 L113.2,303.8 L115.1,304.5 L117.0,305.2 L119.0,306.0 L121.0,306.8 L122.9,307.6 L124.8,308.4 L126.5,309.2 L128.0,309.9 L129.3,310.6 L130.6,311.3 L131.7,311.9 L132.8,312.6 L133.7,313.2 L134.7,313.9 L135.5,314.5 L136.4,315.2 L137.2,315.8 L138.0,316.5 L138.8,317.2 L139.5,317.9 L140.2,318.6 L140.9,319.4 L141.5,320.1 L142.1,320.8 L142.7,321.5 L143.2,322.1 L143.7,322.7 L144.1,323.3 L144.5,323.8 L144.9,324.3 L145.2,324.8 L145.4,325.2 L145.7,325.6 L145.9,325.9 L146.1,326.3 L146.2,326.5 L146.4,326.8 L146.5,327.0" fill="none" stroke="#111" stroke-width="4.3" stroke-linejoin="round" stroke-linecap="round"/>
<circle cx="147.6" cy="328.8" r="1.7" fill="#e32a2a"/>
<circle cx="148.8" cy="331.0" r="1.7" fill="#e32a2a"/>
<circle cx="149.8" cy="333.2" r="1.7" fill="#d33"/>
<circle cx="150.3" cy="336.0" r="1.7" fill="#666"/>
<circle cx="150.6" cy="338.5" r="1.7" fill="#888"/>
<circle cx="150.8" cy="341.0" r="1.7" fill="#999"/>
<circle cx="151.0" cy="343.5" r="1.7" fill="#aaa"/>
<circle cx="151.2" cy="346.0" r="1.7" fill="#bbb"/>
<circle cx="152.2" cy="358.0" r="1.7" fill="#bbb"/>
<circle cx="153.0" cy="366.4" r="1.7" fill="#bbb"/>
<text x="142.5" y="335.8" font-size="7.0" text-anchor="end" fill="#231f20">GIST-T1</text>
<text x="174.4" y="268" font-size="10.2" text-anchor="start" font-weight="bold" fill="#231f20">H</text>
<line x1="203" y1="277" x2="203" y2="362" stroke="#231f20" stroke-width="1.0"/>
<line x1="200.5" y1="281" x2="203" y2="281" stroke="#231f20" stroke-width="1.0"/>
<text x="199.5" y="283.7" font-size="7.6" text-anchor="end" fill="#231f20">100</text>
<line x1="200.5" y1="301.3" x2="203" y2="301.3" stroke="#231f20" stroke-width="1.0"/>
<text x="199.5" y="304.0" font-size="7.6" text-anchor="end" fill="#231f20">75</text>
<line x1="200.5" y1="321.4" x2="203" y2="321.4" stroke="#231f20" stroke-width="1.0"/>
<text x="199.5" y="324.09999999999997" font-size="7.6" text-anchor="end" fill="#231f20">50</text>
<line x1="200.5" y1="342" x2="203" y2="342" stroke="#231f20" stroke-width="1.0"/>
<text x="199.5" y="344.7" font-size="7.6" text-anchor="end" fill="#231f20">25</text>
<line x1="200.5" y1="362" x2="203" y2="362" stroke="#231f20" stroke-width="1.0"/>
<text x="199.5" y="364.7" font-size="7.6" text-anchor="end" fill="#231f20">0</text>
<line x1="203" y1="362" x2="291.5" y2="362" stroke="#231f20" stroke-width="1.0"/>
<line x1="203.75" y1="362" x2="203.75" y2="364.5" stroke="#231f20" stroke-width="1.0"/>
<text x="203.75" y="371.5" font-size="7.6" text-anchor="middle" fill="#231f20">0</text>
<line x1="233.25" y1="362" x2="233.25" y2="364.5" stroke="#231f20" stroke-width="1.0"/>
<text x="233.25" y="371.5" font-size="7.6" text-anchor="middle" fill="#231f20">7</text>
<line x1="262.5" y1="362" x2="262.5" y2="364.5" stroke="#231f20" stroke-width="1.0"/>
<text x="262.5" y="371.5" font-size="7.6" text-anchor="middle" fill="#231f20">14</text>
<line x1="291.25" y1="362" x2="291.25" y2="364.5" stroke="#231f20" stroke-width="1.0"/>
<text x="291.25" y="371.5" font-size="7.6" text-anchor="middle" fill="#231f20">21</text>
<text x="248.75" y="382" font-size="8.2" text-anchor="middle" fill="#231f20">Day</text>
<text x="182.2" y="323.3" font-size="7.8" text-anchor="middle" transform="rotate(-90 182.2 323.3)" fill="#231f20">GIST-T1 cell count (% Luc)</text>
<path d="M203.8,281.0 L216.5,281.0 L243.3,281.0 L269.6,281.0 L291.2,281.0" fill="none" stroke="#9a9a9a" stroke-width="0.8"/>
<path d="M203.8,281.0 L216.5,285.1 L243.3,305.3 L269.6,325.6 L291.2,340.1" fill="none" stroke="#f5c27a" stroke-width="0.8"/>
<path d="M203.8,281.0 L216.5,290.7 L243.3,323.9 L269.6,347.4 L291.2,343.4" fill="none" stroke="#ecd49a" stroke-width="0.8"/>
<path d="M203.8,281.0 L216.5,286.7 L243.3,311.0 L269.6,325.6 L291.2,336.9" fill="none" stroke="#3a48a8" stroke-width="0.8"/>
<path d="M203.8,281.0 L216.5,295.6 L243.3,315.8 L269.6,330.4 L291.2,341.8" fill="none" stroke="#d8452b" stroke-width="0.8"/>
<path d="M203.8,281.0 L216.5,294.0 L243.3,334.5 L269.6,348.2 L291.2,354.7" fill="none" stroke="#d98a4a" stroke-width="0.8"/>
<path d="M203.8,281.0 L216.5,292.3 L243.3,328.8 L269.6,346.6 L291.2,352.3" fill="none" stroke="#1f9a5a" stroke-width="0.8"/>
<path d="M203.8,281.0 L216.5,289.1 L243.3,351.5 L269.6,359.6 L291.2,361.2" fill="none" stroke="#555" stroke-width="0.8"/>
<path d="M291.2,274.5V287.5M290.2,274.5h2M290.2,287.5h2" stroke="#777" stroke-width="0.6" fill="none" stroke-opacity="0.8"/>
<path d="M216.5,283.4V286.7M215.5,283.4h2M215.5,286.7h2" stroke="#f5c27a" stroke-width="0.6" fill="none" stroke-opacity="0.8"/>
<path d="M243.3,302.1V308.5M242.3,302.1h2M242.3,308.5h2" stroke="#f5c27a" stroke-width="0.6" fill="none" stroke-opacity="0.8"/>
<path d="M269.6,320.7V330.4M268.6,320.7h2M268.6,330.4h2" stroke="#f5c27a" stroke-width="0.6" fill="none" stroke-opacity="0.8"/>
<path d="M291.2,333.6V346.6M290.2,333.6h2M290.2,346.6h2" stroke="#f5c27a" stroke-width="0.6" fill="none" stroke-opacity="0.8"/>
<path d="M243.3,319.9V328.0M242.3,319.9h2M242.3,328.0h2" stroke="#ecd49a" stroke-width="0.6" fill="none" stroke-opacity="0.8"/>
<path d="M269.6,344.2V350.7M268.6,344.2h2M268.6,350.7h2" stroke="#ecd49a" stroke-width="0.6" fill="none" stroke-opacity="0.8"/>
<path d="M291.2,340.1V346.6M290.2,340.1h2M290.2,346.6h2" stroke="#ecd49a" stroke-width="0.6" fill="none" stroke-opacity="0.8"/>
<path d="M216.5,285.1V288.3M215.5,285.1h2M215.5,288.3h2" stroke="#3a48a8" stroke-width="0.6" fill="none" stroke-opacity="0.8"/>
<path d="M243.3,307.7V314.2M242.3,307.7h2M242.3,314.2h2" stroke="#3a48a8" stroke-width="0.6" fill="none" stroke-opacity="0.8"/>
<path d="M269.6,319.9V331.2M268.6,319.9h2M268.6,331.2h2" stroke="#3a48a8" stroke-width="0.6" fill="none" stroke-opacity="0.8"/>
<path d="M291.2,330.4V343.4M290.2,330.4h2M290.2,343.4h2" stroke="#3a48a8" stroke-width="0.6" fill="none" stroke-opacity="0.8"/>
<path d="M216.5,294.0V297.2M215.5,294.0h2M215.5,297.2h2" stroke="#d8452b" stroke-width="0.6" fill="none" stroke-opacity="0.8"/>
<path d="M243.3,312.6V319.1M242.3,312.6h2M242.3,319.1h2" stroke="#d8452b" stroke-width="0.6" fill="none" stroke-opacity="0.8"/>
<path d="M269.6,327.2V333.6M268.6,327.2h2M268.6,333.6h2" stroke="#d8452b" stroke-width="0.6" fill="none" stroke-opacity="0.8"/>
<path d="M291.2,338.5V345.0M290.2,338.5h2M290.2,345.0h2" stroke="#d8452b" stroke-width="0.6" fill="none" stroke-opacity="0.8"/>
<path d="M216.5,292.3V295.6M215.5,292.3h2M215.5,295.6h2" stroke="#d98a4a" stroke-width="0.6" fill="none" stroke-opacity="0.8"/>
<path d="M243.3,331.2V337.7M242.3,331.2h2M242.3,337.7h2" stroke="#d98a4a" stroke-width="0.6" fill="none" stroke-opacity="0.8"/>
<path d="M269.6,345.8V350.7M268.6,345.8h2M268.6,350.7h2" stroke="#d98a4a" stroke-width="0.6" fill="none" stroke-opacity="0.8"/>
<path d="M291.2,352.3V357.1M290.2,352.3h2M290.2,357.1h2" stroke="#d98a4a" stroke-width="0.6" fill="none" stroke-opacity="0.8"/>
<path d="M216.5,290.7V294.0M215.5,290.7h2M215.5,294.0h2" stroke="#1f9a5a" stroke-width="0.6" fill="none" stroke-opacity="0.8"/>
<path d="M243.3,325.6V332.0M242.3,325.6h2M242.3,332.0h2" stroke="#1f9a5a" stroke-width="0.6" fill="none" stroke-opacity="0.8"/>
<path d="M269.6,343.4V349.9M268.6,343.4h2M268.6,349.9h2" stroke="#1f9a5a" stroke-width="0.6" fill="none" stroke-opacity="0.8"/>
<path d="M291.2,349.9V354.7M290.2,349.9h2M290.2,354.7h2" stroke="#1f9a5a" stroke-width="0.6" fill="none" stroke-opacity="0.8"/>
<rect x="214.8" y="279.3" width="3.4" height="3.4" fill="#fff" stroke="#111" stroke-width="1"/>
<rect x="241.6" y="279.3" width="3.4" height="3.4" fill="#fff" stroke="#111" stroke-width="1"/>
<rect x="267.9" y="279.3" width="3.4" height="3.4" fill="#fff" stroke="#111" stroke-width="1"/>
<rect x="289.5" y="279.3" width="3.4" height="3.4" fill="#fff" stroke="#111" stroke-width="1"/>
<circle cx="216.5" cy="285.1" r="2.0" fill="#f5c27a"/>
<circle cx="243.3" cy="305.3" r="2.0" fill="#f5c27a"/>
<circle cx="269.6" cy="325.6" r="2.0" fill="#f5c27a"/>
<circle cx="291.2" cy="340.1" r="2.0" fill="#f5c27a"/>
<circle cx="216.5" cy="286.7" r="2.0" fill="#3a48a8"/>
<circle cx="243.3" cy="311.0" r="2.0" fill="#3a48a8"/>
<circle cx="269.6" cy="325.6" r="2.0" fill="#3a48a8"/>
<circle cx="291.2" cy="336.9" r="2.0" fill="#3a48a8"/>
<circle cx="216.5" cy="295.6" r="2.0" fill="#d8452b"/>
<circle cx="243.3" cy="315.8" r="2.0" fill="#d8452b"/>
<circle cx="269.6" cy="330.4" r="2.0" fill="#d8452b"/>
<circle cx="291.2" cy="341.8" r="2.0" fill="#d8452b"/>
<circle cx="216.5" cy="294.0" r="2.0" fill="#d98a4a"/>
<circle cx="243.3" cy="334.5" r="2.0" fill="#d98a4a"/>
<circle cx="269.6" cy="348.2" r="2.0" fill="#d98a4a"/>
<circle cx="291.2" cy="354.7" r="2.0" fill="#d98a4a"/>
<rect x="214.6" y="290.4" width="3.8" height="3.8" fill="#1f9a5a"/>
<rect x="241.4" y="326.9" width="3.8" height="3.8" fill="#1f9a5a"/>
<rect x="267.7" y="344.7" width="3.8" height="3.8" fill="#1f9a5a"/>
<rect x="289.3" y="350.4" width="3.8" height="3.8" fill="#1f9a5a"/>
<circle cx="216.5" cy="289.1" r="1.9" fill="#fff" stroke="#111" stroke-width="0.9"/>
<circle cx="243.3" cy="351.5" r="1.9" fill="#fff" stroke="#111" stroke-width="0.9"/>
<circle cx="269.6" cy="359.6" r="1.9" fill="#fff" stroke="#111" stroke-width="0.9"/>
<circle cx="291.2" cy="361.2" r="1.9" fill="#fff" stroke="#111" stroke-width="0.9"/>
<circle cx="203.8" cy="281.0" r="2" fill="#6a6aa8"/>
<rect x="300.3" y="275.8" width="3" height="3" fill="#fff" stroke="#111" stroke-width="0.9"/>
<text x="305.6" y="279.90000000000003" font-size="7.4" text-anchor="start" fill="#231f20">Luc</text>
<circle cx="301.8" cy="284.7" r="1.6" fill="#fff" stroke="#111" stroke-width="0.9"/>
<text x="305.6" y="287.3" font-size="7.4" text-anchor="start" fill="#231f20">RPS19</text>
<circle cx="301.8" cy="292.1" r="1.7" fill="#d8452b"/>
<text x="305.6" y="294.70000000000005" font-size="7.4" text-anchor="start" fill="#231f20">KAT6A</text>
<circle cx="301.8" cy="299.5" r="1.7" fill="#f5c27a"/>
<text x="305.6" y="302.1" font-size="7.4" text-anchor="start" fill="#231f20">BRPF1</text>
<circle cx="301.8" cy="306.9" r="1.7" fill="#d98a4a"/>
<text x="305.6" y="309.50000000000006" font-size="7.4" text-anchor="start" fill="#231f20">MEAF6</text>
<circle cx="301.8" cy="314.3" r="1.7" fill="#3a48a8"/>
<text x="305.6" y="316.90000000000003" font-size="7.4" text-anchor="start" fill="#231f20">KMT2A</text>
<rect x="300.2" y="320.1" width="3.2" height="3.2" fill="#1f9a5a"/>
<text x="305.6" y="324.30000000000007" font-size="7.4" text-anchor="start" fill="#231f20">MEN1</text>
<text x="342.5" y="268" font-size="10.2" text-anchor="start" font-weight="bold" fill="#231f20">I</text>
<line x1="370.3" y1="274.6" x2="370.3" y2="361.8" stroke="#231f20" stroke-width="1.0"/>
<line x1="367.8" y1="285.4" x2="370.3" y2="285.4" stroke="#231f20" stroke-width="1.0"/>
<text x="366.8" y="288.09999999999997" font-size="7.6" text-anchor="end" fill="#231f20">100</text>
<line x1="367.8" y1="304.6" x2="370.3" y2="304.6" stroke="#231f20" stroke-width="1.0"/>
<text x="366.8" y="307.3" font-size="7.6" text-anchor="end" fill="#231f20">75</text>
<line x1="367.8" y1="323.8" x2="370.3" y2="323.8" stroke="#231f20" stroke-width="1.0"/>
<text x="366.8" y="326.5" font-size="7.6" text-anchor="end" fill="#231f20">50</text>
<line x1="367.8" y1="343" x2="370.3" y2="343" stroke="#231f20" stroke-width="1.0"/>
<text x="366.8" y="345.7" font-size="7.6" text-anchor="end" fill="#231f20">25</text>
<line x1="367.8" y1="361.8" x2="370.3" y2="361.8" stroke="#231f20" stroke-width="1.0"/>
<text x="366.8" y="364.5" font-size="7.6" text-anchor="end" fill="#231f20">0</text>
<line x1="370.3" y1="361.8" x2="511" y2="361.8" stroke="#231f20" stroke-width="1.0"/>
<line x1="375.7" y1="285.24" x2="375.7" y2="277.20120000000003" stroke="#808080" stroke-width="0.8"/>
<line x1="374.7" y1="277.20120000000003" x2="376.7" y2="277.20120000000003" stroke="#808080" stroke-width="0.8"/>
<line x1="383.2" y1="285.24" x2="383.2" y2="275.67" stroke="#e8312f" stroke-width="0.8"/>
<line x1="382.2" y1="275.67" x2="384.2" y2="275.67" stroke="#e8312f" stroke-width="0.8"/>
<rect x="373.2" y="285.2" width="5" height="76.6" fill="#7f7f7f"/>
<rect x="380.7" y="285.2" width="5" height="76.6" fill="#e8312f"/>
<text x="381.4" y="366.5" font-size="7.6" text-anchor="end" transform="rotate(-45 381.4 366.5)">Luc</text>
<line x1="396.15" y1="357.97200000000004" x2="396.15" y2="356.8236" stroke="#808080" stroke-width="0.8"/>
<line x1="395.15" y1="356.8236" x2="397.15" y2="356.8236" stroke="#808080" stroke-width="0.8"/>
<rect x="393.6" y="358.0" width="5" height="3.8" fill="#7f7f7f"/>
<rect x="401.1" y="361.0" width="5" height="0.8" fill="#e8312f"/>
<text x="401.8" y="366.5" font-size="7.6" text-anchor="end" transform="rotate(-45 401.8 366.5)">RPS19</text>
<text x="400.4" y="355" font-size="7.2" text-anchor="middle" font-style="italic" fill="#231f20">n.s.</text>
<line x1="416.59999999999997" y1="301.62384000000003" x2="416.59999999999997" y2="295.9584" stroke="#808080" stroke-width="0.8"/>
<line x1="415.59999999999997" y1="295.9584" x2="417.59999999999997" y2="295.9584" stroke="#808080" stroke-width="0.8"/>
<line x1="424.09999999999997" y1="350.62224000000003" x2="424.09999999999997" y2="346.87080000000003" stroke="#e8312f" stroke-width="0.8"/>
<line x1="423.09999999999997" y1="346.87080000000003" x2="425.09999999999997" y2="346.87080000000003" stroke="#e8312f" stroke-width="0.8"/>
<rect x="414.1" y="301.6" width="5" height="60.2" fill="#7f7f7f"/>
<rect x="421.6" y="350.6" width="5" height="11.2" fill="#e8312f"/>
<text x="422.3" y="366.5" font-size="7.6" text-anchor="end" transform="rotate(-45 422.3 366.5)">KAT6A</text>
<text x="424.09999999999997" y="350.0708" font-size="8.6" text-anchor="middle" fill="#231f20">***</text>
<line x1="437.04999999999995" y1="303.07848" x2="437.04999999999995" y2="298.2552" stroke="#808080" stroke-width="0.8"/>
<line x1="436.04999999999995" y1="298.2552" x2="438.04999999999995" y2="298.2552" stroke="#808080" stroke-width="0.8"/>
<line x1="444.54999999999995" y1="339.5976" x2="444.54999999999995" y2="336.918" stroke="#e8312f" stroke-width="0.8"/>
<line x1="443.54999999999995" y1="336.918" x2="445.54999999999995" y2="336.918" stroke="#e8312f" stroke-width="0.8"/>
<rect x="434.5" y="303.1" width="5" height="58.7" fill="#7f7f7f"/>
<rect x="442.0" y="339.6" width="5" height="22.2" fill="#e8312f"/>
<text x="442.7" y="366.5" font-size="7.6" text-anchor="end" transform="rotate(-45 442.7 366.5)">BRPF1</text>
<text x="444.54999999999995" y="340.118" font-size="8.6" text-anchor="middle" fill="#231f20">**</text>
<line x1="457.5" y1="304.68624" x2="457.5" y2="287.5368" stroke="#808080" stroke-width="0.8"/>
<line x1="456.5" y1="287.5368" x2="458.5" y2="287.5368" stroke="#808080" stroke-width="0.8"/>
<line x1="465.0" y1="348.93792" x2="465.0" y2="342.66" stroke="#e8312f" stroke-width="0.8"/>
<line x1="464.0" y1="342.66" x2="466.0" y2="342.66" stroke="#e8312f" stroke-width="0.8"/>
<rect x="455.0" y="304.7" width="5" height="57.1" fill="#7f7f7f"/>
<rect x="462.5" y="348.9" width="5" height="12.9" fill="#e8312f"/>
<text x="463.2" y="366.5" font-size="7.6" text-anchor="end" transform="rotate(-45 463.2 366.5)">MEAF6</text>
<text x="465.0" y="345.86" font-size="8.6" text-anchor="middle" fill="#231f20">***</text>
<line x1="477.95" y1="312.036" x2="477.95" y2="310.122" stroke="#808080" stroke-width="0.8"/>
<line x1="476.95" y1="310.122" x2="478.95" y2="310.122" stroke="#808080" stroke-width="0.8"/>
<line x1="485.45" y1="341.1288" x2="485.45" y2="336.918" stroke="#e8312f" stroke-width="0.8"/>
<line x1="484.45" y1="336.918" x2="486.45" y2="336.918" stroke="#e8312f" stroke-width="0.8"/>
<rect x="475.4" y="312.0" width="5" height="49.8" fill="#7f7f7f"/>
<rect x="482.9" y="341.1" width="5" height="20.7" fill="#e8312f"/>
<text x="483.6" y="366.5" font-size="7.6" text-anchor="end" transform="rotate(-45 483.6 366.5)">KMT2A</text>
<text x="485.45" y="340.118" font-size="8.6" text-anchor="middle" fill="#231f20">***</text>
<line x1="498.4" y1="318.9264" x2="498.4" y2="316.2468" stroke="#808080" stroke-width="0.8"/>
<line x1="497.4" y1="316.2468" x2="499.4" y2="316.2468" stroke="#808080" stroke-width="0.8"/>
<line x1="505.9" y1="356.21112" x2="505.9" y2="354.52680000000004" stroke="#e8312f" stroke-width="0.8"/>
<line x1="504.9" y1="354.52680000000004" x2="506.9" y2="354.52680000000004" stroke="#e8312f" stroke-width="0.8"/>
<rect x="495.9" y="318.9" width="5" height="42.9" fill="#7f7f7f"/>
<rect x="503.4" y="356.2" width="5" height="5.6" fill="#e8312f"/>
<text x="504.1" y="366.5" font-size="7.6" text-anchor="end" transform="rotate(-45 504.1 366.5)">MEN1</text>
<text x="505.9" y="357.7268" font-size="8.6" text-anchor="middle" fill="#231f20">***</text>
<text x="349.2" y="325" font-size="7.9" text-anchor="middle" transform="rotate(-90 349.2 325)" fill="#231f20">Day 21 cell count (% Luc)</text>
<rect x="482" y="274.6" width="6" height="5.2" fill="#7f7f7f"/>
<rect x="482" y="285.4" width="6" height="5.2" fill="#e8312f"/>
<text x="490.2" y="280" font-size="7.4" text-anchor="start" fill="#231f20">GIST48B</text>
<text x="490.2" y="291" font-size="7.4" text-anchor="start" fill="#231f20">GIST-T1</text>
</svg>
</body></html>
